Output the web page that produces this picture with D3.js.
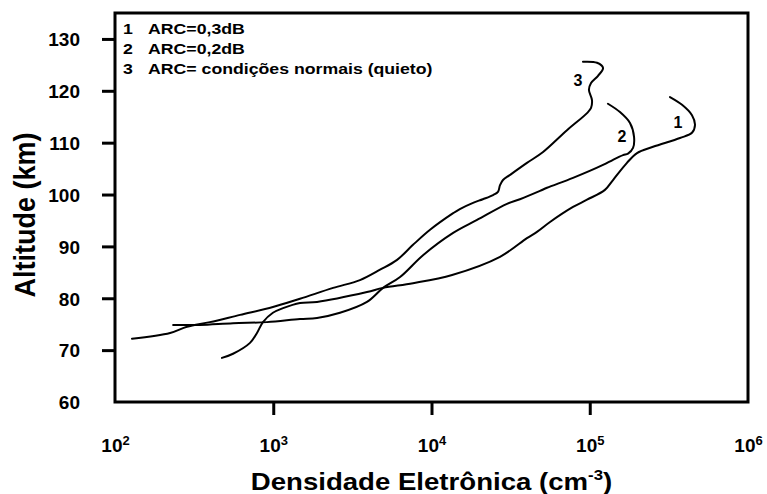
<!DOCTYPE html>
<html><head><meta charset="utf-8">
<script src="https://cdn.jsdelivr.net/npm/d3@7"></script>
<style>
body{margin:0;background:#fff}
svg{display:block}
text{font-family:Arial,"Liberation Sans",Helvetica,sans-serif;font-weight:bold;fill:#000}
</style>
</head><body>
<svg id="chart" width="767" height="494"></svg>
<script>
// ---- data ----
const xTickValues = [1e2, 1e3, 1e4, 1e5, 1e6];
const xTickExp = ["2", "3", "4", "5", "6"];
const yTickValues = [60, 70, 80, 90, 100, 110, 120, 130];

// Curve 1: ARC = 0,3 dB
const dens1 = [474, 557, 713, 789, 861, 995, 1153, 1475, 1890, 3910, 4940, 7640, 13500, 27100, 40100, 46400, 56100, 78400, 96100, 124700, 140300, 171800, 199000, 251200, 371800, 442600, 462400, 442600, 383000, 321400];
const alt1  = [68.5, 69.3, 71.4, 73.3, 75.4, 77.2, 78.1, 79.1, 79.3, 81.2, 82.0, 82.9, 84.5, 88.0, 91.6, 92.8, 94.7, 97.6, 99.0, 100.9, 102.8, 106.1, 108.0, 109.2, 110.9, 111.9, 113.4, 115.3, 117.3, 118.8];

// Curve 2: ARC = 0,2 dB
const dens2 = [233, 344, 557, 913, 1475, 1890, 2640, 3910, 4940, 6330, 8840, 13700, 19400, 30000, 36200, 48500, 53700, 78400, 121300, 140300, 162300, 174500, 187700, 190500, 179600, 155200, 130300];
const alt2  = [74.85, 74.85, 75.2, 75.4, 76.0, 76.2, 77.2, 79.3, 82.0, 84.1, 88.3, 92.6, 95.1, 98.2, 99.1, 100.7, 101.3, 103.2, 105.7, 106.7, 107.6, 107.9, 109.0, 111.1, 113.8, 115.9, 117.5];

// Curve 3: quiet conditions
const dens3 = [128, 223, 285, 398, 617, 995, 1475, 2390, 3530, 4730, 6060, 7640, 9790, 13700, 15100, 18300, 21100, 24500, 26300, 27100, 28300, 31400, 40100, 50700, 71800, 96100, 101900, 103300, 98800, 101900, 112800, 121300, 111200, 90600];
const alt3  = [72.2, 73.3, 74.5, 75.4, 76.8, 78.3, 79.9, 82.0, 83.5, 85.5, 87.4, 90.3, 93.2, 96.4, 97.2, 98.4, 99.1, 99.9, 100.5, 101.8, 102.8, 103.8, 106.1, 108.2, 112.4, 115.7, 116.7, 118.2, 120.2, 121.5, 122.9, 124.4, 125.4, 125.6];

const curveLabels = ["1", "2", "3"];
const labelDens = [361000, 160000, 84300];
const labelAlt = [114.0, 111.3, 122.1];

const legendNums = ["1", "2", "3"];
const legendTexts = ["ARC=0,3dB", "ARC=0,2dB", "ARC= condições normais (quieto)"];

const xTitle = "Densidade Eletrônica (cm";
const xTitleSup = "-3";
const yTitle = "Altitude (km)";

// ---- chart ----
const svg = d3.select("#chart");
const x = d3.scaleLog().domain([1e2, 1e6]).range([115, 748]);
const y = d3.scaleLinear().domain([60, 135]).range([402, 13]);

// curves
const line = d3.line()
  .x(d => x(d[0])).y(d => y(d[1]))
  .curve(d3.curveCatmullRom.alpha(0.5));
const series = [
  d3.zip(dens1, alt1),
  d3.zip(dens2, alt2),
  d3.zip(dens3, alt3)
];
svg.append("g").selectAll("path").data(series).join("path")
  .attr("d", line)
  .attr("fill", "none")
  .attr("stroke", "#000")
  .attr("stroke-width", 2)
  .attr("stroke-linejoin", "round")
  .attr("stroke-linecap", "round");

// curve labels
svg.append("g").selectAll("text").data(curveLabels).join("text")
  .attr("x", (d, i) => x(labelDens[i]))
  .attr("y", (d, i) => y(labelAlt[i]) + 6)
  .attr("text-anchor", "middle")
  .attr("font-size", 16)
  .text(d => d);

// Y axis
const yAxis = d3.axisLeft(y).tickValues(yTickValues).tickSize(13).tickPadding(22).tickFormat(d3.format("d"));
const gy = svg.append("g").attr("transform", `translate(${x.range()[0]},0)`).call(yAxis);
gy.select(".domain").remove();
gy.selectAll(".tick line").attr("stroke", "#000").attr("stroke-width", 3)
  .attr("display", d => d === 60 ? "none" : null);
gy.selectAll(".tick text")
  .attr("font-size", 19).attr("font-family", null).attr("dy", "0.36em");

// X axis
const xAxis = d3.axisBottom(x).tickValues(xTickValues).tickSize(13).tickFormat(() => "");
const gx = svg.append("g").attr("transform", `translate(0,${y.range()[0]})`).call(xAxis);
gx.select(".domain").remove();
gx.selectAll(".tick line").attr("stroke", "#000").attr("stroke-width", 3)
  .attr("display", (d, i) => (i === 0 || i === xTickValues.length - 1) ? "none" : null);
gx.selectAll(".tick text")
  .attr("font-size", 19).attr("font-family", null)
  .attr("y", 50).attr("dy", 0)
  .each(function (d, i) {
    const t = d3.select(this);
    t.text(null);
    t.append("tspan").text("10");
    t.append("tspan").attr("font-size", 13).attr("dy", -7).text(xTickExp[i]);
  });

// frame
svg.append("rect")
  .attr("x", x.range()[0]).attr("y", y.range()[1])
  .attr("width", x.range()[1] - x.range()[0])
  .attr("height", y.range()[0] - y.range()[1])
  .attr("fill", "none").attr("stroke", "#000").attr("stroke-width", 3);

// legend
const lg = svg.append("g");
legendNums.forEach((n, i) => {
  const by = 34 + i * 20;
  lg.append("text").attr("transform", `translate(123,${by}) scale(1.18,1)`).attr("font-size", 15).text(n);
  lg.append("text").attr("transform", `translate(148,${by}) scale(1.18,1)`).attr("font-size", 15).text(legendTexts[i]);
});

// X title
const xt = svg.append("text")
  .attr("transform", `translate(${(x.range()[0] + x.range()[1]) / 2},490) scale(1.2,1)`)
  .attr("text-anchor", "middle").attr("font-size", 23);
xt.append("tspan").text(xTitle);
xt.append("tspan").attr("font-size", 14).attr("dy", -10).text(xTitleSup);
xt.append("tspan").attr("dy", 10).text(")");

// Y title
svg.append("text")
  .attr("transform", `translate(35,215) rotate(-90) scale(1,1.1)`)
  .attr("text-anchor", "middle").attr("font-size", 27)
  .text(yTitle);
</script>
</body></html>
